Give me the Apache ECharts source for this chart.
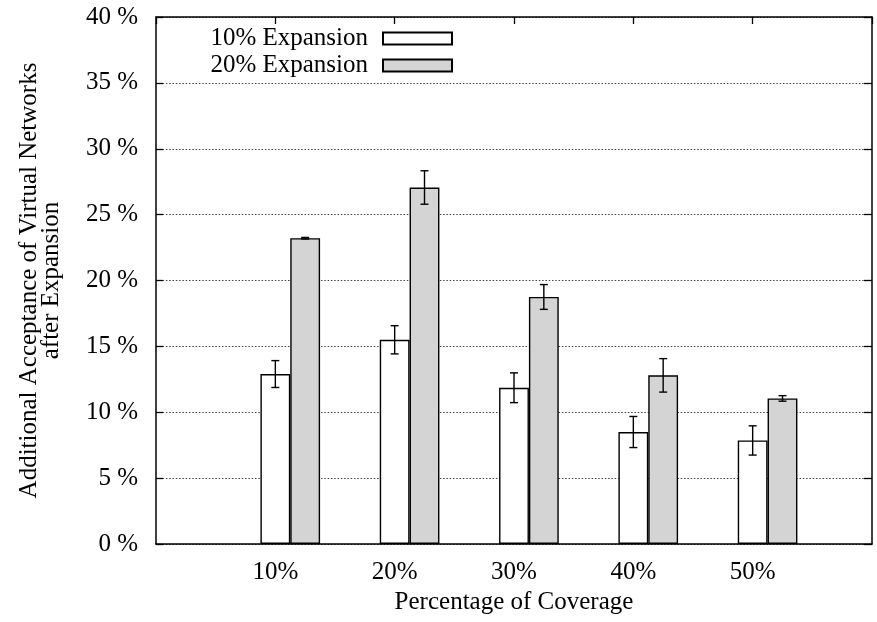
<!DOCTYPE html>
<html>
<head>
<meta charset="utf-8">
<script src="https://cdn.jsdelivr.net/npm/echarts@6/dist/echarts.min.js"></script>
<style>
  html, body { margin: 0; padding: 0; background: #fff; }
  #chart { width: 877px; height: 622px; }
</style>
</head>
<body>
<div id="chart"></div>
<script>
// Coverage levels (padded with empty slots at both ends of the axis)
const categories = ['', '10%', '20%', '30%', '40%', '50%', ''];

// Additional acceptance (%) and error bar half-widths
const exp10 = [12.9, 15.5, 11.86, 8.5, 7.86];
const exp10Err = [1.02, 1.07, 1.13, 1.18, 1.11];
const exp20 = [23.21, 27.06, 18.75, 12.8, 11.05];
const exp20Err = [0.06, 1.27, 0.94, 1.27, 0.21];

const yTicks = [0, 5, 10, 15, 20, 25, 30, 35, 40];

const FONT = 'Liberation Serif';
const FS = 25;
const BAR_FRAC = 0.25;

function pad(arr) {
  return ['-'].concat(arr, ['-']);
}

function errData(vals, errs) {
  return vals.map((v, i) => [i + 1, v, errs[i]]);
}

function errRenderer(slot) {
  return function (params, api) {
    const idx = api.value(0);
    const v = api.value(1);
    const e = api.value(2);
    const band = api.size([1, 0])[0];
    const x = api.coord([idx, v])[0] + slot * band * BAR_FRAC;
    const yTop = api.coord([idx, v + e])[1];
    const yBot = api.coord([idx, v - e])[1];
    const cap = 4;
    const style = { stroke: '#000', lineWidth: 1.4, fill: null };
    return {
      type: 'group',
      children: [
        { type: 'line', shape: { x1: x, y1: yTop, x2: x, y2: yBot }, style },
        { type: 'line', shape: { x1: x - cap, y1: yTop, x2: x + cap, y2: yTop }, style },
        { type: 'line', shape: { x1: x - cap, y1: yBot, x2: x + cap, y2: yBot }, style }
      ]
    };
  };
}

const chart = echarts.init(document.getElementById('chart'), null, { renderer: 'canvas' });

const axisLine = { show: true, onZero: false, lineStyle: { color: '#000', width: 1.5 } };

chart.setOption({
  animation: false,
  backgroundColor: '#fff',
  textStyle: { fontFamily: FONT, color: '#000' },
  grid: { left: 156, right: 5, top: 17, bottom: 78, containLabel: false },
  legend: {
    data: ['10% Expansion', '20% Expansion'],
    orient: 'vertical',
    right: 419,
    top: 21,
    align: 'right',
    itemWidth: 69,
    itemHeight: 12,
    itemGap: 2,
    icon: 'rect',
    textStyle: { fontFamily: FONT, fontSize: FS, color: '#000', lineHeight: 24, padding: [0, 10, 0, 0] },
    selectedMode: false
  },
  xAxis: [
    {
      type: 'category',
      data: categories,
      boundaryGap: false,
      position: 'bottom',
      axisLine: axisLine,
      axisTick: { show: false },
      axisLabel: { fontFamily: FONT, fontSize: FS, color: '#000', margin: 16, interval: 0 },
      splitLine: { show: false },
      name: 'Percentage of Coverage',
      nameLocation: 'middle',
      nameGap: 46,
      nameTextStyle: { fontFamily: FONT, fontSize: FS, color: '#000' }
    },
    {
      type: 'category',
      data: categories,
      boundaryGap: false,
      position: 'top',
      axisLine: axisLine,
      axisTick: { show: true, inside: true, length: 7, interval: 0, lineStyle: { color: '#000', width: 1.3 } },
      axisLabel: { show: false },
      splitLine: { show: false }
    }
  ],
  yAxis: [
    {
      type: 'value',
      min: yTicks[0],
      max: yTicks[yTicks.length - 1],
      interval: 5,
      position: 'left',
      axisLine: axisLine,
      axisTick: { show: true, inside: true, length: 7, lineStyle: { color: '#000', width: 1.3 } },
      axisLabel: { fontFamily: FONT, fontSize: FS, color: '#000', margin: 18, formatter: '{value} %' },
      splitLine: { show: true, lineStyle: { color: '#444', width: 1, type: [1.5, 1.8] } },
      name: 'Additional Acceptance of Virtual Networks\nafter Expansion',
      nameLocation: 'middle',
      nameRotate: 90,
      nameGap: 94,
      nameTextStyle: { fontFamily: FONT, fontSize: FS, color: '#000', lineHeight: 22, align: 'center' }
    },
    {
      type: 'value',
      min: yTicks[0],
      max: yTicks[yTicks.length - 1],
      interval: 5,
      position: 'right',
      axisLine: axisLine,
      axisTick: { show: true, inside: true, length: 8, lineStyle: { color: '#000', width: 1.3 } },
      axisLabel: { show: false },
      splitLine: { show: false }
    }
  ],
  series: [
    {
      // empty slot so the two visible bars start at the tick
      name: 'spacer',
      type: 'bar',
      xAxisIndex: 0,
      yAxisIndex: 0,
      data: pad(exp10.map(() => '-')),
      barWidth: (BAR_FRAC * 100) + '%',
      barGap: '0%',
      itemStyle: { color: 'rgba(0,0,0,0)' },
      silent: true
    },
    {
      name: '10% Expansion',
      type: 'bar',
      xAxisIndex: 0,
      yAxisIndex: 0,
      data: pad(exp10),
      barWidth: (BAR_FRAC * 100) + '%',
      barGap: '0%',
      itemStyle: { color: '#ffffff', borderColor: '#000', borderWidth: 1.4 }
    },
    {
      name: '20% Expansion',
      type: 'bar',
      xAxisIndex: 0,
      yAxisIndex: 0,
      data: pad(exp20),
      barWidth: (BAR_FRAC * 100) + '%',
      barGap: '0%',
      itemStyle: { color: '#d4d4d4', borderColor: '#000', borderWidth: 1.4 }
    },
    {
      name: 'err10',
      type: 'custom',
      xAxisIndex: 0,
      yAxisIndex: 0,
      data: errData(exp10, exp10Err),
      renderItem: errRenderer(0),
      z: 5,
      silent: true
    },
    {
      name: 'err20',
      type: 'custom',
      xAxisIndex: 0,
      yAxisIndex: 0,
      data: errData(exp20, exp20Err),
      renderItem: errRenderer(1),
      z: 5,
      silent: true
    }
  ]
});
</script>
</body>
</html>
